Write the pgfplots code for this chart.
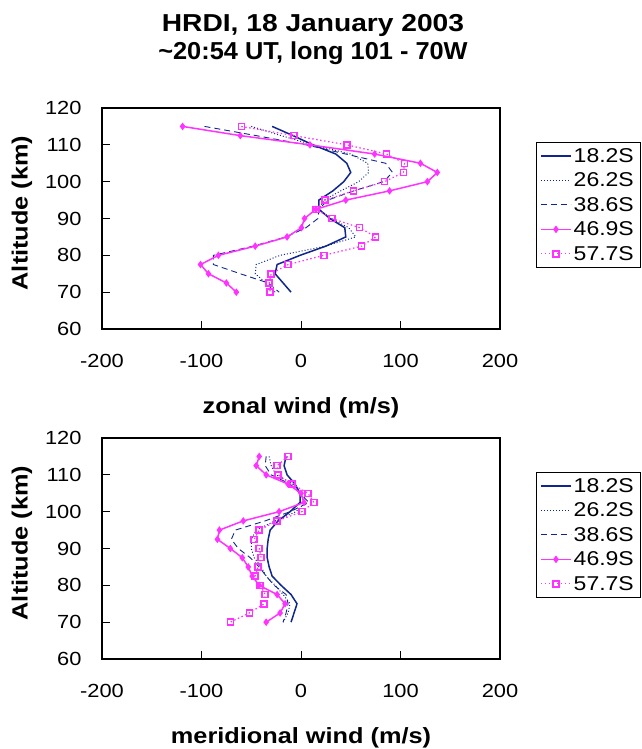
\documentclass[border=0pt]{standalone}
\usepackage{fontspec}
\setmainfont{Liberation Sans}[FakeStretch=1.15]
\usepackage{pgfplots}
\usepackage{pgfplotstable}
\pgfplotsset{compat=1.18}
\definecolor{navy}{RGB}{16,38,140}
\definecolor{mag}{RGB}{255,51,255}

\pgfplotstableread{
alt   s18  s26  s38  s46   s57
115   -29  -50  -97  -119  -60
112.5 -8   -20  -45  -61   -7
110   12   12   5    9     46
107.5 35   50   45   74    86
105   46   67   85   120   104
102.5 50   68   92   137   103
100   43   58   83   127   84
97.5  32   40   53   89    53
95    18   23   27   45    24
92.5  18   18   18   15    15
90    29   30   17   3.5   31
87.5  44   48   5    0.5   59
85    45   55   -15  -14   75
82.5  25   25   -48  -46   61
80    -1   -21  -88  -83   23
77.5  -24  -45  -88  -101  -13
75    -26  -46  -61  -93   -30
72.5  -18  -35  -33  -75   -32
70    -10  -26  -22  -65   -31
}\zonal

\pgfplotstableread{
alt   s18  s26  s38  s46  s57
115   -15  -32  -35  -42  -13
112.5 -17  -30  -36  -45  -24
110   -14  -25  -30  -35  -23
107.5 -6   -8   -11  -13  -9
105   -1   -1   -1   0    7
102.5 -1   4    8    3    13
100   -11  -5   -11  -22  1
97.5  -23  -26  -36  -58  -24
95    -31  -45  -66  -82  -42
92.5  -33  -50  -70  -84  -47
90    -34  -50  -63  -71  -42
87.5  -34  -47  -51  -59  -40
85    -32  -40  -42  -53  -43
82.5  -29  -35  -35  -49  -46
80    -20  -26  -27  -42  -41
77.5  -10  -18  -15  -24  -36
75    -4   -11  -13  -16  -37
72.5  -7   -13  -15  -21  -52
70    -10  -18  -18  -35  -71
}\merid

\pgfplotsset{
  windax/.style={
    width=398pt, height=221pt, scale only axis,
    xmin=-200, xmax=200, ymin=60, ymax=120,
    xtick={-200,-100,0,100,200}, ytick={60,70,...,120},
    tick align=inside, major tick length=8pt,
    xtick pos=bottom, ytick pos=left,
    tick style={black, line width=1pt},
    axis line style={line width=1.2pt},
    /pgf/number format/assume math mode=true,
    ticklabel style={font=\fontsize{19}{19}\selectfont},
    xticklabel style={yshift=-22pt},
    yticklabel style={xshift=-17pt},
    xlabel style={at={(axis description cs:0.5,0)}, anchor=base, yshift=-84pt,
      font=\bfseries\fontsize{22}{22}\selectfont},
    ylabel style={at={(axis description cs:-0.201,0.525)}, anchor=center,
      font=\bfseries\fontsize{22}{22}\selectfont},
    legend style={at={(1.0905,0.846)}, anchor=north west, draw=black,
      font=\fontsize{20}{20}\selectfont, row sep=5pt, inner xsep=4pt, inner ysep=4pt},
    legend cell align=left,
    legend image code/.code={
      \draw[mark repeat=2,mark phase=2,##1] plot coordinates {(0pt,0pt) (15pt,0pt) (30pt,0pt)};},
  },
  p18/.style={navy, line width=1.5pt, mark=none},
  p26/.style={navy, line width=1pt, dash pattern=on 1pt off 2pt, mark=none},
  p38/.style={navy, line width=0.9pt, dash pattern=on 6pt off 4pt, mark=none},
  p46/.style={mag, line width=1.5pt, mark=diamond*, mark size=2.6pt, mark options={solid, fill=mag}},
  p57/.style={mag, line width=1.2pt, dash pattern=on 1.5pt off 2.5pt, mark=square, mark size=3pt, mark options={solid, line width=1.5pt}},
}

\begin{document}
\begin{tikzpicture}
\useasboundingbox (0,0) rectangle (641pt,-749pt);
\node[anchor=base, font=\bfseries\fontsize{24.5}{24.5}\selectfont] at (313pt,-31.7pt) {HRDI, 18 January 2003};
\node[anchor=base, font=\bfseries\fontsize{24.5}{24.5}\selectfont] at (313pt,-60pt) {\scalebox{0.9}[1]{\textasciitilde20:54 UT, long 101 - 70W}};

\begin{axis}[windax, at={(102pt,-108pt)}, anchor=north west,
  xlabel={zonal wind (m/s)}, ylabel={Altitude (km)}]
\addplot[p18] table[x=s18, y=alt] {\zonal};
\addplot[p26] table[x=s26, y=alt] {\zonal};
\addplot[p38] table[x=s38, y=alt] {\zonal};
\addplot[p46] table[x=s46, y=alt] {\zonal};
\addplot[p57] table[x=s57, y=alt] {\zonal};
\legend{18.2S, 26.2S, 38.6S, 46.9S, 57.7S}
\end{axis}

\begin{axis}[windax, at={(102pt,-438pt)}, anchor=north west,
  xlabel={meridional wind (m/s)}, ylabel={Altitude (km)}]
\addplot[p18] table[x=s18, y=alt] {\merid};
\addplot[p26] table[x=s26, y=alt] {\merid};
\addplot[p38] table[x=s38, y=alt] {\merid};
\addplot[p46] table[x=s46, y=alt] {\merid};
\addplot[p57] table[x=s57, y=alt] {\merid};
\legend{18.2S, 26.2S, 38.6S, 46.9S, 57.7S}
\end{axis}
\end{tikzpicture}
\end{document}
